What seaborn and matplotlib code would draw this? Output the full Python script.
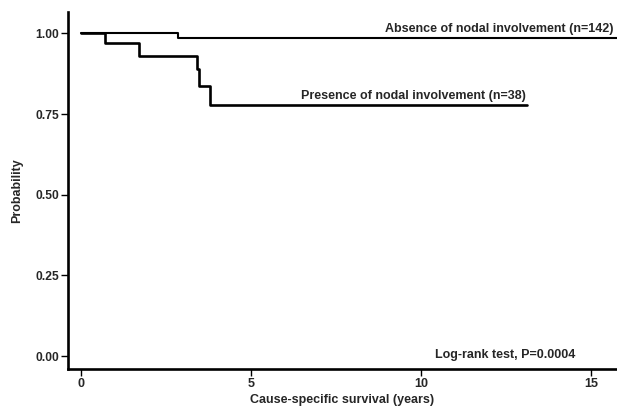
import matplotlib
matplotlib.use("Agg")
import matplotlib.pyplot as plt
import seaborn as sns
import pandas as pd

# ---- data ----
absence_time = [0.0, 2.87, 15.75]
absence_surv = [1.0, 0.984, 0.984]
presence_time = [0.0, 0.72, 1.72, 3.41, 3.47, 3.80, 13.10]
presence_surv = [1.0, 0.971, 0.931, 0.888, 0.836, 0.778, 0.778]

absence_label = "Absence of nodal involvement (n=142)"
presence_label = "Presence of nodal involvement (n=38)"
test_label = "Log-rank test, P=0.0004"

x_ticks = [0, 5, 10, 15]
y_ticks = [0.0, 0.25, 0.50, 0.75, 1.00]
y_tick_labels = ["0.00", "0.25", "0.50", "0.75", "1.00"]
x_title = "Cause-specific survival (years)"
y_title = "Probability"

sns.set_style("ticks")
plt.rcParams["font.family"] = ["Liberation Sans", "DejaVu Sans"]
plt.rcParams["font.weight"] = "bold"

df_abs = pd.DataFrame({"time": absence_time, "surv": absence_surv})
df_pre = pd.DataFrame({"time": presence_time, "surv": presence_surv})

fig = plt.figure(figsize=(6.17, 4.12), dpi=100)
ax = fig.add_axes([0.1102, 0.1044, 0.8898, 0.8672])

sns.lineplot(data=df_abs, x="time", y="surv", ax=ax, color="black",
             linewidth=1.5, drawstyle="steps-post", estimator=None, sort=False)
sns.lineplot(data=df_pre, x="time", y="surv", ax=ax, color="black",
             linewidth=1.9, drawstyle="steps-post", estimator=None, sort=False)

ax.set_xlim(-0.37, 15.75)
ax.set_ylim(-0.040, 1.067)
ax.set_xticks(x_ticks)
ax.set_xticklabels([str(t) for t in x_ticks], fontsize=9, fontweight="bold")
ax.set_yticks(y_ticks)
ax.set_yticklabels(y_tick_labels, fontsize=8.7, fontweight="bold")
ax.tick_params(axis="both", direction="out", length=5, width=1.0, color="black", pad=1.5)
ax.set_xlabel(x_title, fontsize=9, fontweight="bold", labelpad=3)
ax.set_ylabel(y_title, fontsize=9, fontweight="bold", labelpad=9)

for side in ["top", "right"]:
    ax.spines[side].set_visible(False)
for side in ["left", "bottom"]:
    ax.spines[side].set_linewidth(1.9)
    ax.spines[side].set_color("black")

ax.text(15.66, 1.004, absence_label, ha="right", va="baseline",
        fontsize=9, fontweight="bold")
ax.text(13.08, 0.796, presence_label, ha="right", va="baseline",
        fontsize=9, fontweight="bold")
ax.text(14.54, -0.006, test_label, ha="right", va="baseline",
        fontsize=9, fontweight="bold")

fig.savefig("out.png", dpi=100)
